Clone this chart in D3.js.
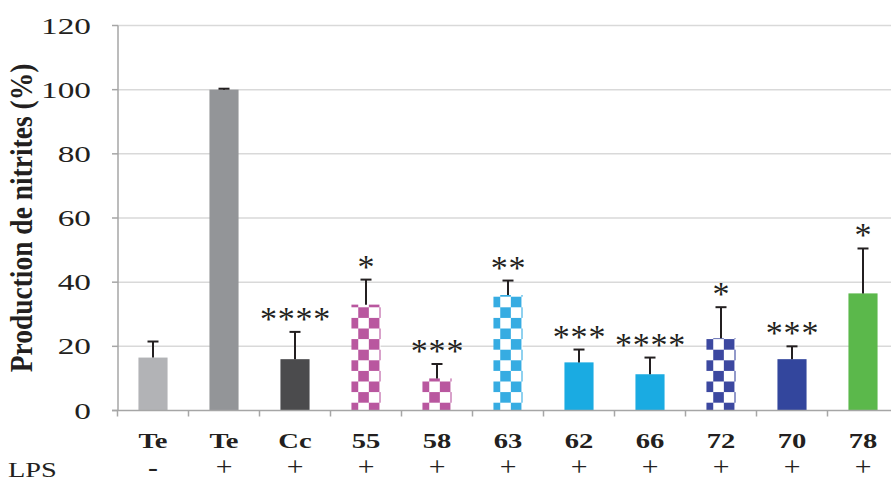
<!DOCTYPE html>
<html><head><meta charset="utf-8">
<script src="https://cdn.jsdelivr.net/npm/d3@7"></script>
<style>body{margin:0;background:#fff}svg{display:block}
svg text{font-family:"Liberation Serif","Times New Roman",Times,"DejaVu Serif",serif;fill:#231f20}</style>
</head><body><svg id="c" width="891" height="483"></svg>
<script>
const categories = ["Te","Te","Cc","55","58","63","62","66","72","70","78"];
const lps = ["-","+","+","+","+","+","+","+","+","+","+"];
const values = [16.5,100,16,33,10,36,15,11.3,22.5,16,36.5];
const errors = [5,0.3,8.5,7.8,4.5,4.5,4,5.2,9.7,4,14];
const stars = ["","","****","*","***","**","***","****","*","***","*"];
const colors = ["#b2b3b6","#939598","#4b4b4d","#b9579f","#b9579f","#36ace2","#1aabe2","#1aabe2","#3c48a0","#33469d","#5bb84b"];
const checker = [false,false,false,true,true,true,false,false,true,false,false];
const yTicks = [0,20,40,60,80,100,120];

const svg = d3.select("#c");
const x = d3.scaleBand().domain(d3.range(categories.length)).range([117.5, 898.5]).paddingInner(0.59).paddingOuter(0.295);
const y = d3.scaleLinear().domain([0,120]).range([410.5,25.5]);
const cx = i => x(i) + x.bandwidth()/2;

// gridlines
svg.append("g").selectAll("line").data(yTicks.filter(d=>d>0)).join("line")
  .attr("x1",118).attr("x2",891).attr("y1",d=>y(d)).attr("y2",d=>y(d))
  .attr("stroke","#d9d9d9").attr("stroke-width",1.5);

// patterns
const defs = svg.append("defs");
const cell = 10.6;
categories.forEach((c,i)=>{
  if(!checker[i]) return;
  const x0 = x(i) - (cell - 6.8);
  const y0 = y(0) - 2*cell + (cell - 7.8);
  const p = defs.append("pattern").attr("id","chk"+i).attr("patternUnits","userSpaceOnUse")
    .attr("x",x0).attr("y",y0).attr("width",2*cell).attr("height",2*cell);
  p.append("rect").attr("width",2*cell).attr("height",2*cell).attr("fill","#fff");
  p.append("rect").attr("x",0).attr("y",cell).attr("width",cell).attr("height",cell).attr("fill",colors[i]);
  p.append("rect").attr("x",cell).attr("y",0).attr("width",cell).attr("height",cell).attr("fill",colors[i]);
});

// bars
svg.append("g").selectAll("rect").data(values).join("rect")
  .attr("x",(d,i)=>x(i)).attr("width",x.bandwidth())
  .attr("y",d=>y(d)).attr("height",d=>y(0)-y(d))
  .attr("fill",(d,i)=>checker[i]?`url(#chk${i})`:colors[i]);

// error bars
const eb = svg.append("g").attr("stroke","#231f20").attr("stroke-width",2);
values.forEach((v,i)=>{
  eb.append("line").attr("x1",cx(i)).attr("x2",cx(i)).attr("y1",y(v)).attr("y2",y(v+errors[i]));
  eb.append("line").attr("x1",cx(i)-5.5).attr("x2",cx(i)+5.5).attr("y1",y(v+errors[i])).attr("y2",y(v+errors[i]));
});

// stars
svg.append("g").selectAll("text").data(stars).join("text")
  .attr("transform",(d,i)=>`translate(${cx(i)+0.5},${y(values[i]+errors[i])-2})`)
  .attr("text-anchor","middle").attr("font-size",34)
  .attr("letter-spacing",0.8).text(d=>d);

// axes lines
const ax = svg.append("g").attr("stroke","#a6a6a6").attr("stroke-width",1.5);
ax.append("line").attr("x1",118).attr("x2",118).attr("y1",y(120)).attr("y2",y(0));
ax.append("line").attr("x1",112).attr("x2",891).attr("y1",y(0)).attr("y2",y(0));
ax.selectAll(".yt").data(yTicks).join("line").attr("x1",112).attr("x2",118).attr("y1",d=>y(d)).attr("y2",d=>y(d));
ax.selectAll(".xt").data(d3.range(categories.length+1)).join("line")
  .attr("x1",d=>117.5+d*71).attr("x2",d=>117.5+d*71).attr("y1",y(0)).attr("y2",y(0)+6);

// y tick labels
svg.append("g").selectAll("text").data(yTicks).join("text")
  .attr("transform",d=>`translate(91,${y(d)}) scale(1.45,1)`).attr("dy","0.35em").attr("text-anchor","end")
  .attr("font-size",23).text(d=>d);

// y title
svg.append("text").attr("transform","translate(32,218) scale(1.15,1) rotate(-90)")
  .attr("text-anchor","middle").attr("font-weight","bold")
  .attr("font-size",27.5).text("Production de nitrites (%)");

// category labels
svg.append("g").selectAll("text").data(categories).join("text")
  .attr("transform",(d,i)=>`translate(${cx(i)},448) scale(1.3,1)`).attr("text-anchor","middle")
  .attr("font-weight","bold").attr("font-size",22).text(d=>d);

// LPS row
svg.append("text").attr("transform","translate(8,477) scale(1.35,1)").attr("font-size",21).text("LPS");
svg.append("g").selectAll("text").data(lps).join("text")
  .attr("transform",(d,i)=>`translate(${cx(i)},476) scale(1.1,1)`).attr("text-anchor","middle")
  .attr("font-size",27).text(d=>d);
</script></body></html>
